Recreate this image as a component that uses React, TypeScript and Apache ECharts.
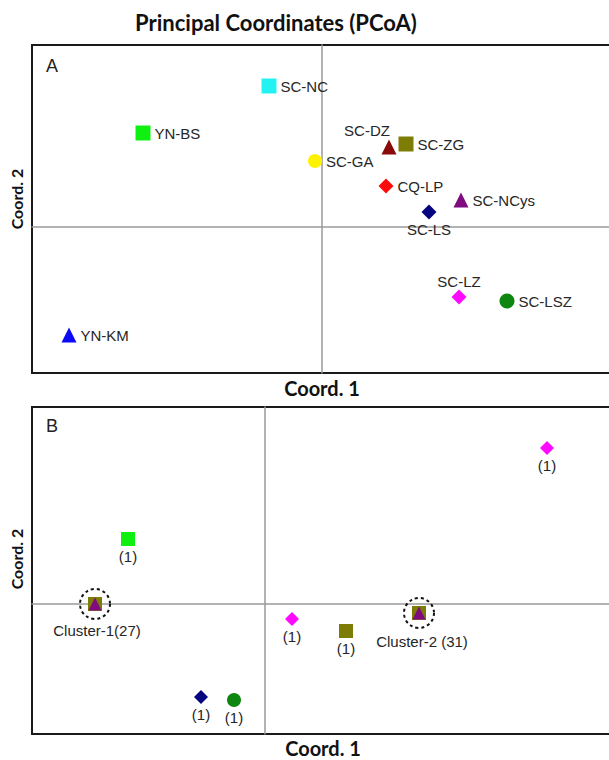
import React, { useEffect, useRef } from "react";
import * as echarts from "echarts";

// ---- Data: panel A (populations) ----
const namesA = ["SC-NC", "YN-BS", "SC-GA", "SC-DZ", "SC-ZG", "CQ-LP", "SC-NCys", "SC-LS", "SC-LZ", "SC-LSZ", "YN-KM"];
const coord1A = [-0.053, -0.179, -0.007, 0.067, 0.084, 0.064, 0.139, 0.107, 0.137, 0.185, -0.253];
const coord2A = [0.141, 0.094, 0.066, 0.080, 0.083, 0.041, 0.027, 0.015, -0.070, -0.074, -0.108];

// ---- Data: panel B (individuals) ----
const groupsB = ["YN-BS", "SC-LS", "SC-LSZ", "SC-LZ", "SC-ZG", "SC-LZ"];
const countsB = ["(1)", "(1)", "(1)", "(1)", "(1)", "(1)"];
const coord1B = [-0.137, -0.064, -0.031, 0.027, 0.081, 0.282];
const coord2B = [0.065, -0.093, -0.096, -0.015, -0.027, 0.156];

const clusterLabels = ["Cluster-1(27)", "Cluster-2 (31)"];
const clusterX = [-0.170, 0.154];
const clusterY = [0.000, -0.009];

// ---- Styles (kept separate from data) ----
const markerStyle: Record<string, { symbol: string; color: string; size: number }> = {
  "SC-NC": { symbol: "rect", color: "#22F2F2", size: 15 },
  "YN-BS": { symbol: "rect", color: "#10F010", size: 15 },
  "SC-GA": { symbol: "circle", color: "#FFF200", size: 14 },
  "SC-DZ": { symbol: "triangle", color: "#880A0A", size: 15 },
  "SC-ZG": { symbol: "rect", color: "#7D7D05", size: 15 },
  "CQ-LP": { symbol: "diamond", color: "#FF0A0A", size: 15 },
  "SC-NCys": { symbol: "triangle", color: "#800A80", size: 15 },
  "SC-LS": { symbol: "diamond", color: "#050580", size: 15 },
  "SC-LZ": { symbol: "diamond", color: "#FF0AFF", size: 15 },
  "SC-LSZ": { symbol: "circle", color: "#0F860F", size: 15 },
  "YN-KM": { symbol: "triangle", color: "#0A0AF5", size: 15 },
};
const labelPlacement: Record<string, any> = {
  "SC-DZ": { position: "top", distance: 2, offset: [-22, 0] },
  "SC-LS": { position: "bottom", distance: 2 },
  "SC-LZ": { position: "top", distance: 1 },
};

const LABEL_FONT = "'Liberation Sans', Arial, sans-serif";
const TITLE_FONT = "Lato, 'Open Sans', sans-serif";

export default function App() {
  const ref = useRef<HTMLDivElement>(null);
  useEffect(() => {
    if (!ref.current) return;
    const chart = echarts.init(ref.current, undefined, { renderer: "svg" });

    const labelBase = {
      show: true,
      color: "#262626",
      fontSize: 15,
      fontFamily: LABEL_FONT,
    };

    const dataA = namesA.map((n, i) => {
      const s = markerStyle[n];
      const lp = labelPlacement[n] || { position: "right", distance: 4 };
      return {
        name: n,
        value: [coord1A[i], coord2A[i]],
        symbol: s.symbol,
        symbolSize: s.size,
        itemStyle: { color: s.color, opacity: 1 },
        label: { ...labelBase, formatter: n, ...lp },
      };
    });

    const dataB = groupsB.map((g, i) => {
      const s = markerStyle[g];
      return {
        name: g + i,
        value: [coord1B[i], coord2B[i]],
        symbol: s.symbol,
        symbolSize: s.size - 1,
        itemStyle: { color: s.color, opacity: 1 },
        label: { ...labelBase, formatter: countsB[i], position: "bottom", distance: 3 },
      };
    });

    const axisLineStyle = { show: true, onZero: true, lineStyle: { color: "#9a9a9a", width: 1.5 } };
    const makeAxis = (gridIndex: number, min: number, max: number) => ({
      type: "value",
      gridIndex,
      min,
      max,
      axisLine: axisLineStyle,
      axisTick: { show: false },
      axisLabel: { show: false },
      splitLine: { show: false },
    });

    const boldTitle = (text: string, x: number, y: number, rot = 0, size = 17) => ({
      type: "text",
      x,
      y,
      rotation: rot,
      style: {
        text,
        fill: "#111",
        font: `bold ${size}px ${TITLE_FONT}`,
        align: "center",
        verticalAlign: "middle",
      },
    });

    chart.setOption({
      animation: false,
      backgroundColor: "#fff",
      grid: [
        { left: 32, top: 45, width: 590, height: 328, show: true, borderColor: "#1a1a1a", borderWidth: 2, backgroundColor: "transparent" },
        { left: 32, top: 407, width: 590, height: 327, show: true, borderColor: "#1a1a1a", borderWidth: 2, backgroundColor: "transparent" },
      ],
      xAxis: [makeAxis(0, -0.29, 0.3), makeAxis(1, -0.233, 0.357)],
      yAxis: [makeAxis(0, -0.146, 0.182), makeAxis(1, -0.13, 0.197)],
      graphic: [
        boldTitle("Principal Coordinates (PCoA)", 276, 22, 0, 22),
        boldTitle("Coord. 1", 322, 388, 0, 20),
        boldTitle("Coord. 1", 323, 748, 0, 20),
        boldTitle("Coord. 2", 16, 199, Math.PI / 2, 16),
        boldTitle("Coord. 2", 16, 559, Math.PI / 2, 16),
        { type: "text", x: 52, y: 66, style: { text: "A", fill: "#222", font: `18px ${LABEL_FONT}`, align: "center", verticalAlign: "middle" } },
        { type: "text", x: 52, y: 426, style: { text: "B", fill: "#222", font: `18px ${LABEL_FONT}`, align: "center", verticalAlign: "middle" } },
      ],
      series: [
        {
          type: "scatter",
          xAxisIndex: 0,
          yAxisIndex: 0,
          data: dataA,
          z: 3,
        },
        {
          type: "scatter",
          xAxisIndex: 1,
          yAxisIndex: 1,
          data: dataB,
          z: 3,
        },
        {
          type: "scatter",
          xAxisIndex: 1,
          yAxisIndex: 1,
          symbol: "circle",
          symbolSize: 30,
          itemStyle: { color: "transparent", borderColor: "#111", borderWidth: 2, borderType: [3, 3], opacity: 1 },
          data: clusterLabels.map((c, i) => ({
            value: [clusterX[i], clusterY[i]],
            label: { ...labelBase, formatter: c, position: "bottom", distance: i === 0 ? 3 : 5, offset: i === 0 ? [2, 0] : [3, 0] },
          })),
          z: 2,
        },
        {
          type: "scatter",
          xAxisIndex: 1,
          yAxisIndex: 1,
          symbol: "rect",
          symbolSize: 14,
          itemStyle: { color: markerStyle["SC-ZG"].color, opacity: 1 },
          data: clusterX.map((x, i) => [x, clusterY[i]]),
          z: 3,
        },
        {
          type: "scatter",
          xAxisIndex: 1,
          yAxisIndex: 1,
          symbol: "triangle",
          symbolSize: 13,
          itemStyle: { color: markerStyle["SC-NCys"].color, opacity: 1 },
          data: clusterX.map((x, i) => [x, clusterY[i]]),
          z: 4,
        },
      ],
    });
    return () => chart.dispose();
  }, []);

  return <div ref={ref} style={{ position: "fixed", left: 0, top: 0, width: 630, height: 760 }} />;
}
